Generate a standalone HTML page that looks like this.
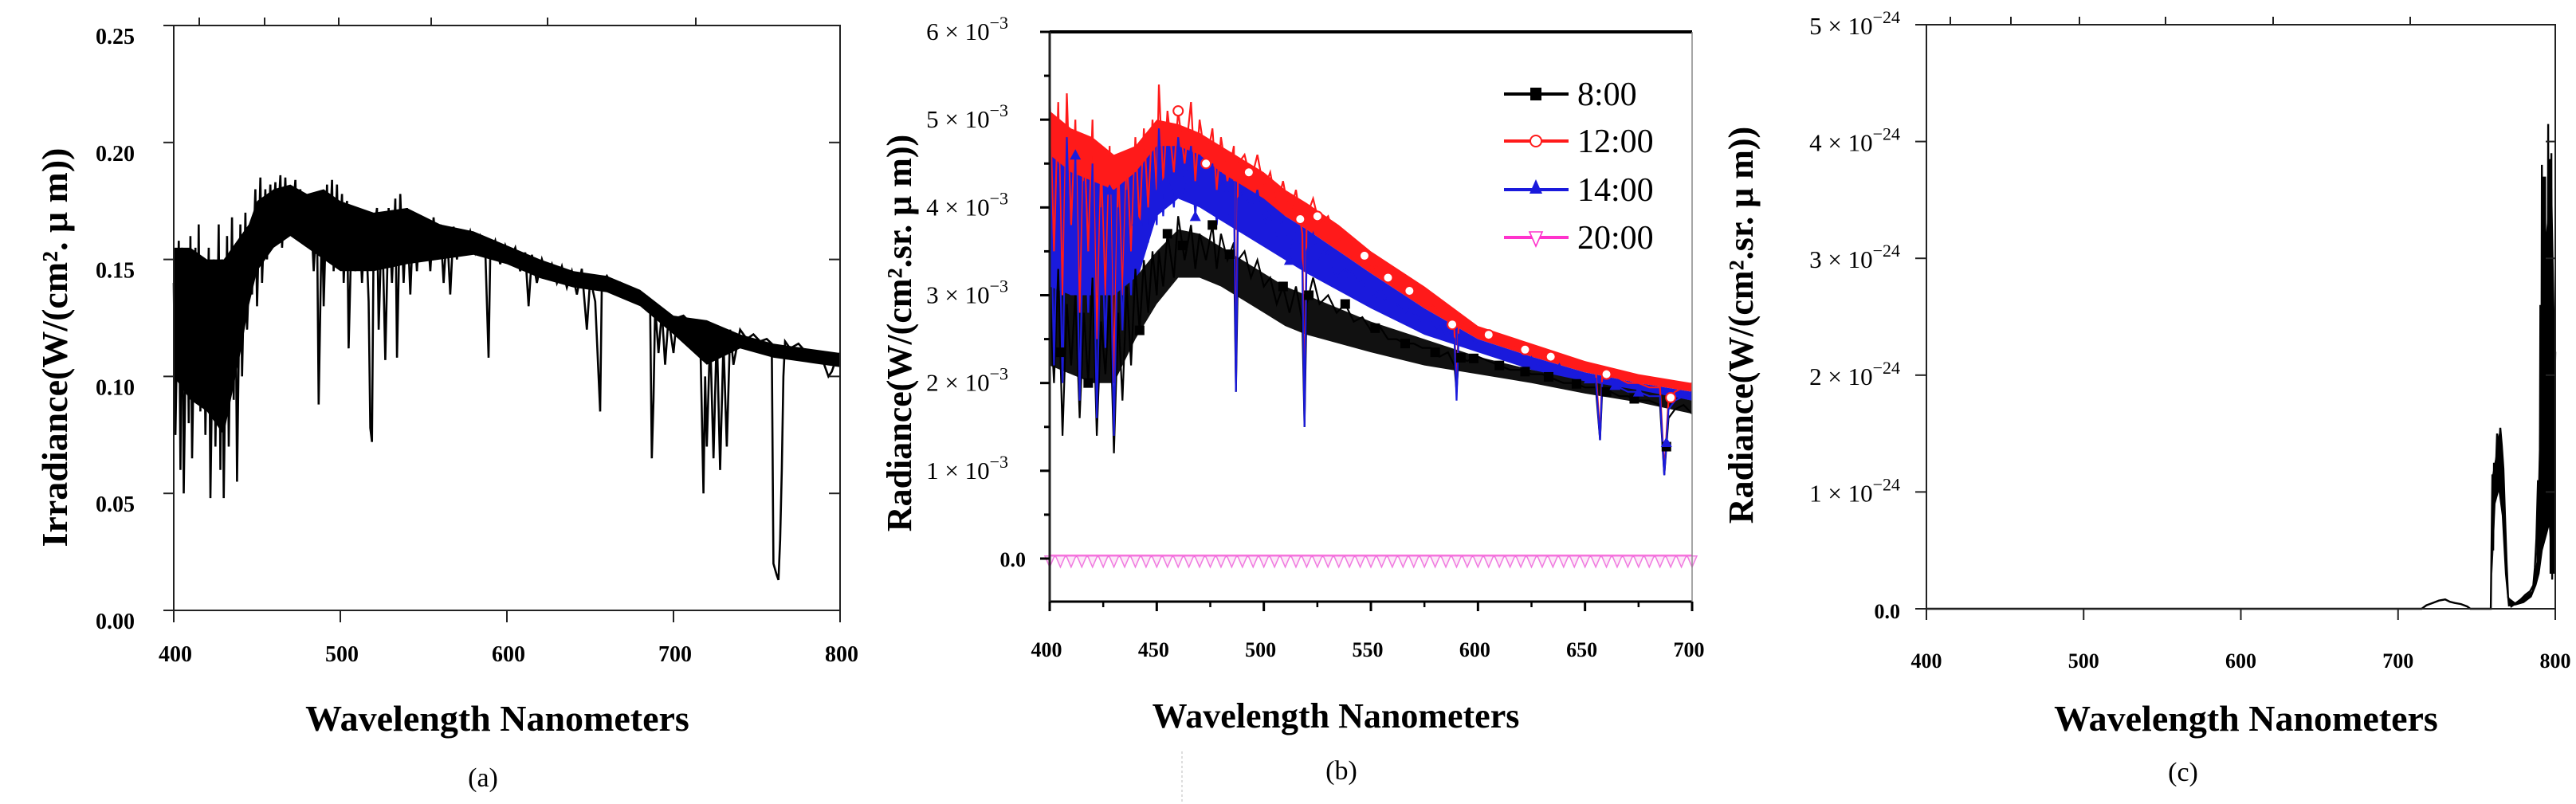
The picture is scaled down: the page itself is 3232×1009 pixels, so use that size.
<!DOCTYPE html>
<html><head><meta charset="utf-8">
<style>
html,body{margin:0;padding:0;background:#fff;}
svg{display:block;}
text{font-family:"Liberation Serif",serif;}
</style></head>
<body>
<svg id="fig" width="3232" height="1009" viewBox="0 0 3232 1009" xmlns="http://www.w3.org/2000/svg"></svg>
<script>
// ---------- Panel (a) data: solar irradiance ----------
const wlA = [400,401,403,404,405,406,408,409,410,411,413,414,415,416,418,419,421,422,424,425,427,428,429,430,432,433,435,436,437,438,440,441,443,444,446,447,449,450,452,453,455,456,458,459,461,462,464,465,467,468,470,471,473,474,476,477,479,480,482,484,486,487,489,490,492,493,495,496,498,499,501,502,504,505,507,509,511,513,515,517,518,519,520,522,523,525,527,529,531,533,534,536,538,540,542,544,546,548,550,552,554,556,558,560,562,564,566,568,570,572,575,578,581,584,587,589,590,593,596,599,602,605,608,611,613,615,618,621,624,627,630,633,636,639,642,645,648,650,653,656,657,660,664,668,672,676,680,684,686,687,688,689,691,693,695,697,700,702,706,710,714,716,718,719,720,722,724,726,728,730,732,734,736,740,744,748,752,756,759,760,762,763,764,765,766,767,770,775,780,785,790,793,795,798,800];
const irrA = [0.14,0.075,0.158,0.06,0.155,0.05,0.15,0.08,0.16,0.065,0.155,0.09,0.165,0.085,0.15,0.075,0.155,0.048,0.15,0.07,0.165,0.06,0.15,0.048,0.16,0.07,0.168,0.09,0.15,0.055,0.165,0.1,0.17,0.12,0.16,0.135,0.18,0.13,0.185,0.14,0.18,0.15,0.182,0.155,0.183,0.16,0.186,0.155,0.185,0.16,0.18,0.165,0.184,0.16,0.18,0.165,0.178,0.16,0.175,0.145,0.17,0.088,0.172,0.13,0.182,0.15,0.184,0.145,0.182,0.15,0.178,0.14,0.175,0.112,0.17,0.145,0.172,0.14,0.17,0.132,0.078,0.072,0.16,0.172,0.12,0.17,0.107,0.172,0.14,0.176,0.108,0.178,0.14,0.172,0.135,0.17,0.145,0.168,0.15,0.165,0.145,0.168,0.15,0.165,0.14,0.163,0.135,0.164,0.15,0.163,0.155,0.162,0.153,0.16,0.155,0.108,0.152,0.158,0.148,0.156,0.15,0.155,0.145,0.153,0.13,0.152,0.14,0.15,0.143,0.148,0.14,0.147,0.138,0.145,0.135,0.146,0.12,0.142,0.132,0.085,0.14,0.143,0.138,0.14,0.135,0.137,0.132,0.134,0.13,0.065,0.09,0.13,0.11,0.128,0.105,0.125,0.11,0.125,0.126,0.123,0.124,0.12,0.05,0.1,0.07,0.118,0.065,0.12,0.06,0.115,0.07,0.12,0.105,0.12,0.116,0.118,0.115,0.116,0.114,0.02,0.015,0.013,0.03,0.06,0.1,0.115,0.112,0.114,0.11,0.11,0.106,0.1,0.102,0.108,0.11];
// dense-noise envelope of the spectrum (upper / lower)
const envWlA = [400,410,420,430,440,445,450,460,470,480,490,500,520,540,560,580,600,620,640,660,680,700,720,740,760,780,800];
const envHiA = [0.155,0.155,0.15,0.15,0.16,0.165,0.175,0.18,0.182,0.178,0.18,0.175,0.17,0.172,0.165,0.162,0.156,0.15,0.145,0.143,0.137,0.126,0.124,0.118,0.114,0.112,0.11];
const envLoA = [0.1,0.09,0.085,0.075,0.11,0.13,0.145,0.155,0.16,0.155,0.15,0.145,0.145,0.148,0.15,0.152,0.148,0.142,0.138,0.136,0.13,0.118,0.105,0.112,0.108,0.106,0.104];
const yTicksA = [0,0.05,0.10,0.15,0.20,0.25];
const yTickLabelsA = ["0.00","0.05","0.10","0.15","0.20","0.25"];
const xTicksA = [400,500,600,700,800];

// ---------- Panel (b) data: radiance at four times (x1e-3) ----------
const wlB = [400,402,404,406,408,410,412,414,416,418,420,422,424,426,428,430,432,434,436,438,440,442,444,446,448,450,451,453,455,458,460,463,466,468,470,473,476,478,480,483,486,487,488,491,494,497,500,503,506,509,512,515,518,519,520,523,526,530,534,538,542,546,550,554,558,562,566,570,574,578,582,586,589,590,591,595,600,605,610,615,620,625,630,635,640,645,650,655,657,658,662,666,670,675,680,685,687,689,692,696,700];
const radB12 = [5.3,3.5,5.2,3.0,5.3,3.8,5.0,2.8,4.8,3.5,5.0,2.5,4.5,3.0,4.7,2.0,4.5,3.0,4.6,3.5,4.8,3.8,4.9,4.0,5.0,4.2,
5.4,4.3,5.1,4.4,5.1,4.5,5.2,4.3,5.0,4.5,4.9,4.2,4.8,4.3,4.7,2.0,4.5,4.6,4.3,4.6,4.2,
4.4,4.0,4.3,3.9,4.2,3.7,1.6,3.9,4.1,3.8,
3.9,3.6,3.7,3.5,3.5,3.3,3.35,3.2,3.2,3.05,3.05,2.9,2.9,2.8,2.8,
2.6,1.9,2.7,2.65,
2.6,2.55,2.5,2.45,2.4,2.35,2.3,2.3,2.25,2.2,2.15,2.15,
1.4,2.1,2.1,2.05,2.0,2.0,1.95,1.95,1.0,1.8,1.9,1.95,2.0];
const radB14 = [4.9,2.2,4.5,2.0,4.8,3.0,4.6,1.8,4.3,2.8,4.5,1.6,4.0,2.4,4.2,1.4,4.0,2.6,4.2,3.0,4.4,3.3,4.5,3.6,4.6,3.8,
4.9,3.9,4.7,4.0,4.8,4.1,4.7,3.9,4.6,4.1,4.5,3.8,4.4,3.9,4.3,1.9,4.1,4.2,3.9,4.2,3.8,
4.0,3.6,3.9,3.4,3.8,3.3,1.5,3.5,3.7,3.4,
3.5,3.2,3.3,3.2,3.15,3.0,3.05,2.9,2.9,2.8,2.8,2.7,2.7,2.6,2.6,
2.5,1.8,2.55,2.5,
2.45,2.4,2.35,2.3,2.3,2.25,2.2,2.2,2.15,2.1,2.05,2.05,
1.35,2.0,2.0,1.95,1.9,1.9,1.85,1.85,0.95,1.7,1.8,1.85,1.9];
const radB08 = [3.0,2.0,3.3,1.4,2.9,2.2,3.0,1.6,2.8,2.0,3.2,1.4,2.7,2.1,3.0,1.2,2.8,1.8,3.1,2.2,3.3,2.6,3.4,2.8,3.5,3.0,
3.5,3.1,3.7,3.2,3.9,3.4,3.8,3.3,3.7,3.4,3.8,3.3,3.7,3.4,3.6,1.9,3.4,3.5,3.2,3.4,3.1,
3.2,2.9,3.1,2.8,3.1,2.7,1.5,2.9,3.2,2.9,
3.0,2.8,2.9,2.7,2.75,2.6,2.65,2.5,2.5,2.45,2.45,2.4,2.4,2.3,2.35,
2.2,1.9,2.3,2.25,
2.3,2.25,2.2,2.15,2.15,2.1,2.1,2.05,2.0,2.0,1.95,1.95,
1.35,1.9,1.9,1.85,1.85,1.8,1.8,1.75,0.95,1.6,1.7,1.75,1.65];
// dense-noise envelopes for panel (b)
const envWlB = [400,410,420,430,440,450,460,470,480,490,500,510,520,535,550,575,600,625,650,675,700];
const envHi12 = [5.1,4.9,4.8,4.6,4.7,5.0,4.95,4.85,4.7,4.55,4.4,4.2,4.05,3.8,3.5,3.1,2.65,2.45,2.25,2.1,2.0];
const envLo12 = [4.0,3.8,3.6,3.6,4.1,4.5,4.6,4.5,4.35,4.2,4.05,3.9,3.75,3.5,3.25,2.85,2.5,2.3,2.12,2.0,1.9];
const envHi14 = [4.6,4.4,4.3,4.2,4.4,4.7,4.7,4.6,4.4,4.25,4.1,3.9,3.75,3.5,3.25,2.85,2.5,2.3,2.12,2.0,1.9];
const envLo14 = [2.8,2.6,2.5,2.4,3.1,3.9,4.1,4.0,3.85,3.7,3.55,3.4,3.25,3.05,2.85,2.55,2.35,2.15,2.0,1.9,1.8];
const envHi08 = [3.1,3.0,3.0,3.0,3.2,3.5,3.75,3.7,3.55,3.4,3.25,3.1,3.0,2.85,2.7,2.5,2.3,2.15,2.02,1.92,1.8];
const envLo08 = [2.2,2.1,2.0,2.0,2.5,2.9,3.2,3.2,3.1,2.95,2.8,2.65,2.55,2.45,2.35,2.2,2.1,2.0,1.88,1.78,1.65];
const wlB20 = [400,405,410,415,420,425,430,435,440,445,450,455,460,465,470,475,480,485,490,495,500,505,510,515,520,525,530,535,540,545,550,555,560,565,570,575,580,585,590,595,600,605,610,615,620,625,630,635,640,645,650,655,660,665,670,675,680,685,690,695,700];
const radB20 = [0.03,0.03,0.03,0.03,0.03,0.03,0.03,0.03,0.03,0.03,0.03,0.03,0.03,0.03,0.03,0.03,0.03,0.03,0.03,0.03,0.03,0.03,0.03,0.03,0.03,0.03,0.03,0.03,0.03,0.03,0.03,0.03,0.03,0.03,0.03,0.03,0.03,0.03,0.03,0.03,0.03,0.03,0.03,0.03,0.03,0.03,0.03,0.03,0.03,0.03,0.03,0.03,0.03,0.03,0.03,0.03,0.03,0.03,0.03,0.03,0.03];
const mkWl08 = [405,418,442,455,462,476,484,509,521,538,552,566,580,592,598,610,622,633,646,660,673,688];
const mkWl12 = [460,473,493,517,525,547,558,568,588,605,622,634,660,690];
const mkWl14 = [412,428,441,454,468,481,496,512,528,541,555,568,582,596,612,625,638,652,664,675,688];
const seriesNamesB = ["8:00","12:00","14:00","20:00"];
const yTicksB = [0,1,2,3,4,5,6];
const yTickLabelsB = ["0.0","1","2","3","4","5","6"];
const xTicksB = [400,450,500,550,600,650,700];

// ---------- Panel (c) data: night radiance (x1e-24) ----------
const wlC = [400,715,718,722,726,730,733,736,740,744,746,759,760,760.5,761,762,763,764,765,766,767,768,769,770,772,775,778,781,784,786,787,788,789,790,790.5,791,791.5,792,792.5,793,793.5,794,794.5,795,795.5,796,796.5,797,797.5,798,798.5,799,799.5,800];
const radC = [0,0,0.03,0.05,0.07,0.08,0.06,0.05,0.04,0.02,0,0,1.15,0.5,1.25,1.1,1.5,1.3,1.55,1.4,1.2,0.8,0.4,0.1,0.02,0.05,0.08,0.12,0.15,0.2,0.35,0.6,1.1,0.4,2.6,0.5,3.8,0.6,3.7,0.7,3.7,0.8,3.2,1.0,4.15,0.9,3.85,0.3,3.9,0.25,2.2,0.5,1.8,2.2];
const envWlC = [760,762,764,766,768,770,775,780,785,788,790,792,794,796,798,800];
const envHiC = [1.15,1.3,1.5,1.4,0.8,0.1,0.05,0.1,0.15,0.4,1.6,3.0,3.2,3.5,3.6,2.2];
const envLoC = [0.3,0.9,1.0,0.8,0.3,0.02,0.03,0.05,0.1,0.2,0.3,0.5,0.6,0.7,0.3,0.3];
const yTicksC = [0,1,2,3,4,5];
const yTickLabelsC = ["0.0","1","2","3","4","5"];
const xTicksC = [400,500,600,700,800];

const NS = "http://www.w3.org/2000/svg";
const svg = document.getElementById("fig");
function mk(tag, attrs, parent){
  const e = document.createElementNS(NS, tag);
  for (const k in attrs) e.setAttribute(k, attrs[k]);
  (parent||svg).appendChild(e);
  return e;
}
function scale(d0,d1,r0,r1){ return v => r0 + (v-d0)*(r1-r0)/(d1-d0); }
function interp(xs, ys, x){
  for (let i=1;i<xs.length;i++){ if (x<=xs[i]){ const t=(x-xs[i-1])/(xs[i]-xs[i-1]); return ys[i-1]+t*(ys[i]-ys[i-1]); } }
  return ys[ys.length-1];
}
function ptsStr(xs, ys, sx, sy){ return xs.map((x,i)=>sx(x).toFixed(1)+","+sy(ys[i]).toFixed(1)).join(" "); }
function bandStr(xs, hi, lo, sx, sy){
  const a = xs.map((x,i)=>sx(x).toFixed(1)+","+sy(hi[i]).toFixed(1));
  const b = xs.map((x,i)=>sx(x).toFixed(1)+","+sy(lo[i]).toFixed(1)).reverse();
  return a.concat(b).join(" ");
}

// ======== PANEL A ========
(function(){
  const g = mk("g",{});
  
  
  const L=218,R=1054,T=32,B=766;
  const sx = scale(400,800,L,R), sy = scale(0,0.25,B,T);
  const band = mk("polygon",{points:bandStr(envWlA,envHiA,envLoA,sx,sy),fill:"#000"},g);
  
  
  const line = mk("polyline",{points:ptsStr(wlA,irrA,sx,sy),fill:"none",stroke:"#000","stroke-width":2.6},g);
  
  
  const frame = mk("rect",{x:L,y:T,width:R-L,height:B-T,fill:"none",stroke:"#222","stroke-width":2},g);
  
  
  yTicksA.forEach((v,i)=>{
    const y=sy(v);
    mk("line",{x1:L-13,y1:y,x2:L,y2:y,stroke:"#222","stroke-width":2},g);
    mk("line",{x1:R-14,y1:y,x2:R,y2:y,stroke:"#222","stroke-width":2},g);
    const t = mk("text",{x:169,y:y+23,"text-anchor":"end","font-size":28,"font-weight":"bold"},g);
    t.textContent = yTickLabelsA[i];
    
    
  });
  xTicksA.forEach(v=>{
    const x=sx(v);
    mk("line",{x1:x,y1:B,x2:x,y2:B+15,stroke:"#222","stroke-width":2},g);
    const t = mk("text",{x:x+2,y:830,"text-anchor":"middle","font-size":28,"font-weight":"bold"},g);
    t.textContent = v;
    
    
  });
  [250,332,425,541,687,873].forEach(x=>mk("line",{x1:x,y1:T-10,x2:x,y2:T,stroke:"#222","stroke-width":2},g));
  const yt = mk("text",{transform:"translate(84,436) rotate(-90)","text-anchor":"middle","font-size":46,"font-weight":"bold"},g);
  yt.textContent = "Irradiance(W/(cm². μ m))";
  
  
  const xt = mk("text",{x:624,y:917,"text-anchor":"middle","font-size":46,"font-weight":"bold"},g);
  xt.textContent = "Wavelength Nanometers";
  
  
  const cap = mk("text",{x:606,y:987,"text-anchor":"middle","font-size":34},g);
  cap.textContent = "(a)";
  
  
})();

// ======== PANEL B ========
(function(){
  const g = mk("g",{});
  
  
  const L=1317,R=2123,T=40,B=755;
  const sx = scale(400,700,L,R), sy = scale(0,6,701,T);
  const colors = ["#000000","#ff1a1a","#1a1adc","#ff33cc"];
  const lw = 2.2;
  const b12 = mk("polygon",{points:bandStr(envWlB,envHi12,envLo12,sx,sy),fill:colors[1]},g);
  
  
  const b14 = mk("polygon",{points:bandStr(envWlB,envHi14,envLo14,sx,sy),fill:colors[2]},g);
  
  
  const b08 = mk("polygon",{points:bandStr(envWlB,envHi08,envLo08,sx,sy),fill:"#111"},g);
  
  
  const l12 = mk("polyline",{points:ptsStr(wlB,radB12,sx,sy),fill:"none",stroke:colors[1],"stroke-width":lw},g);
  
  
  const l08 = mk("polyline",{points:ptsStr(wlB,radB08,sx,sy),fill:"none",stroke:colors[0],"stroke-width":lw},g);
  
  
  const l14 = mk("polyline",{points:ptsStr(wlB,radB14,sx,sy),fill:"none",stroke:colors[2],"stroke-width":lw},g);
  
  
  const l20 = mk("polyline",{points:ptsStr(wlB20,radB20,sx,sy),fill:"none",stroke:colors[3],"stroke-width":3},g);
  
  
  mkWl08.forEach(w=>{ const x=sx(w), y=sy(interp(wlB,radB08,w));
    const m=mk("rect",{x:x-6,y:y-6,width:12,height:12,fill:"#000"},g);
    
     });
  mkWl12.forEach(w=>{ const x=sx(w), y=sy(interp(wlB,radB12,w));
    const m=mk("circle",{cx:x,cy:y,r:6,fill:"#fff",stroke:colors[1],"stroke-width":2},g);
    
     });
  mkWl14.forEach(w=>{ const x=sx(w), y=sy(interp(wlB,radB14,w));
    const m=mk("polygon",{points:`${x},${y-7} ${x-7},${y+6} ${x+7},${y+6}`,fill:colors[2]},g);
    
     });
  wlB20.forEach((w,i)=>{ const x=sx(w), y=sy(radB20[i]);
    const m=mk("polygon",{points:`${x-6},${y} ${x+6},${y} ${x},${y+14}`,fill:"#fde8f8",stroke:"#f07ce0","stroke-width":1.5},g);
    
     });
  mk("line",{x1:L,y1:T,x2:R,y2:T,stroke:"#000","stroke-width":4},g);
  mk("line",{x1:L,y1:B,x2:R,y2:B,stroke:"#000","stroke-width":3},g);
  mk("line",{x1:L,y1:T,x2:L,y2:B,stroke:"#222","stroke-width":3},g);
  mk("line",{x1:R,y1:T,x2:R,y2:B,stroke:"#888","stroke-width":1.5},g);
  yTicksB.forEach((v,i)=>{
    const y=sy(v);
    mk("line",{x1:L-12,y1:y,x2:L,y2:y,stroke:"#000","stroke-width":3},g);
    const ym=sy(v-0.5);
    if (ym<=B) mk("line",{x1:L-7,y1:ym,x2:L,y2:ym,stroke:"#000","stroke-width":3},g);
    const t = mk("text",{x:1287,y:y+10,"text-anchor":"end","font-size":i===0?26:31,"font-weight":i===0?"bold":"normal"},g);
    if (i===0) { t.textContent = yTickLabelsB[i]; }
    else {
      t.textContent = yTickLabelsB[i] + " × 10";
      const s = mk("tspan",{dy:-14,"font-size":22},t); s.textContent = "−3";
      t.setAttribute("x",1265);
    }
    
    
  });
  xTicksB.forEach(v=>{
    const x=sx(v);
    mk("line",{x1:x,y1:B,x2:x,y2:B+12,stroke:"#000","stroke-width":3},g);
    if (v<700){ const xm=sx(v+25); mk("line",{x1:xm,y1:B,x2:xm,y2:B+7,stroke:"#000","stroke-width":2.5},g); }
    const t = mk("text",{x:x-4,y:824,"text-anchor":"middle","font-size":26,"font-weight":"bold"},g);
    t.textContent = v;
    
    
  });
  const leg = mk("g",{},g);
  
  
  const legY = [118,177,238,298];
  seriesNamesB.forEach((n,i)=>{
    const y=legY[i];
    const e = mk("g",{},leg);
    
    
    mk("line",{x1:1887,y1:y,x2:1968,y2:y,stroke:colors[i],"stroke-width":4},e);
    const cx=1927;
    if(i===0) mk("rect",{x:cx-7,y:y-8,width:14,height:16,fill:"#000"},e);
    if(i===1) mk("circle",{cx:cx,cy:y,r:7,fill:"#fff",stroke:colors[1],"stroke-width":2},e);
    if(i===2) mk("polygon",{points:`${cx},${y-13} ${cx-8},${y+5} ${cx+8},${y+5}`,fill:colors[2]},e);
    if(i===3) mk("polygon",{points:`${cx-8},${y-7} ${cx+8},${y-7} ${cx},${y+11}`,fill:"#fff",stroke:colors[3],"stroke-width":1.6},e);
    const t = mk("text",{x:1979,y:y+14,"font-size":42},e);
    t.textContent = n;
  });
  const yt = mk("text",{transform:"translate(1143,418) rotate(-90)","text-anchor":"middle","font-size":44,"font-weight":"bold"},g);
  yt.textContent = "Radiance(W/(cm².sr. μ m))";
  
  
  const xt = mk("text",{x:1676,y:913,"text-anchor":"middle","font-size":44,"font-weight":"bold"},g);
  xt.textContent = "Wavelength Nanometers";
  
  
  const cap = mk("text",{x:1683,y:978,"text-anchor":"middle","font-size":34},g);
  cap.textContent = "(b)";
  
  
  const dl = mk("line",{x1:1483,y1:943,x2:1483,y2:1009,stroke:"#bbb","stroke-width":1,"stroke-dasharray":"3,3"},g);
  
  
})();

// ======== PANEL C ========
(function(){
  const g = mk("g",{});
  
  
  const L=2417,R=3206,T=31,B=764;
  const sx = scale(400,800,L,R), sy = scale(0,5,B,T);
  const band = mk("polygon",{points:bandStr(envWlC,envHiC,envLoC,sx,sy),fill:"#000"},g);
  
  
  const line = mk("polyline",{points:ptsStr(wlC,radC,sx,sy),fill:"none",stroke:"#000","stroke-width":2.4},g);
  
  
  const frame = mk("rect",{x:L,y:T,width:R-L,height:B-T,fill:"none",stroke:"#222","stroke-width":2},g);
  
  
  yTicksC.forEach((v,i)=>{
    const y=sy(v);
    mk("line",{x1:L-14,y1:y,x2:L,y2:y,stroke:"#222","stroke-width":2},g);
    mk("line",{x1:R-12,y1:y,x2:R,y2:y,stroke:"#222","stroke-width":2},g);
    const t = mk("text",{x:2384,y:y+12,"text-anchor":"end","font-size":i===0?26:31,"font-weight":i===0?"bold":"normal"},g);
    if (i===0) t.textContent = yTickLabelsC[i];
    else {
      t.textContent = yTickLabelsC[i] + " × 10";
      const s = mk("tspan",{dy:-14,"font-size":22},t); s.textContent = "−24";
    }
    
    
  });
  xTicksC.forEach(v=>{
    const x=sx(v);
    mk("line",{x1:x,y1:B,x2:x,y2:B+14,stroke:"#222","stroke-width":2},g);
    const t = mk("text",{x:x,y:838,"text-anchor":"middle","font-size":26,"font-weight":"bold"},g);
    t.textContent = v;
    
    
  });
  [2447,2523,2609,2717,2852,3024].forEach(x=>mk("line",{x1:x,y1:T-10,x2:x,y2:T,stroke:"#222","stroke-width":2},g));
  const yt = mk("text",{transform:"translate(2199,408) rotate(-90)","text-anchor":"middle","font-size":44,"font-weight":"bold"},g);
  yt.textContent = "Radiance(W/(cm².sr. μ m))";
  
  
  const xt = mk("text",{x:2818,y:917,"text-anchor":"middle","font-size":46,"font-weight":"bold"},g);
  xt.textContent = "Wavelength Nanometers";
  
  
  const cap = mk("text",{x:2739,y:980,"text-anchor":"middle","font-size":34},g);
  cap.textContent = "(c)";
  
  
})();
</script>
</body></html>
